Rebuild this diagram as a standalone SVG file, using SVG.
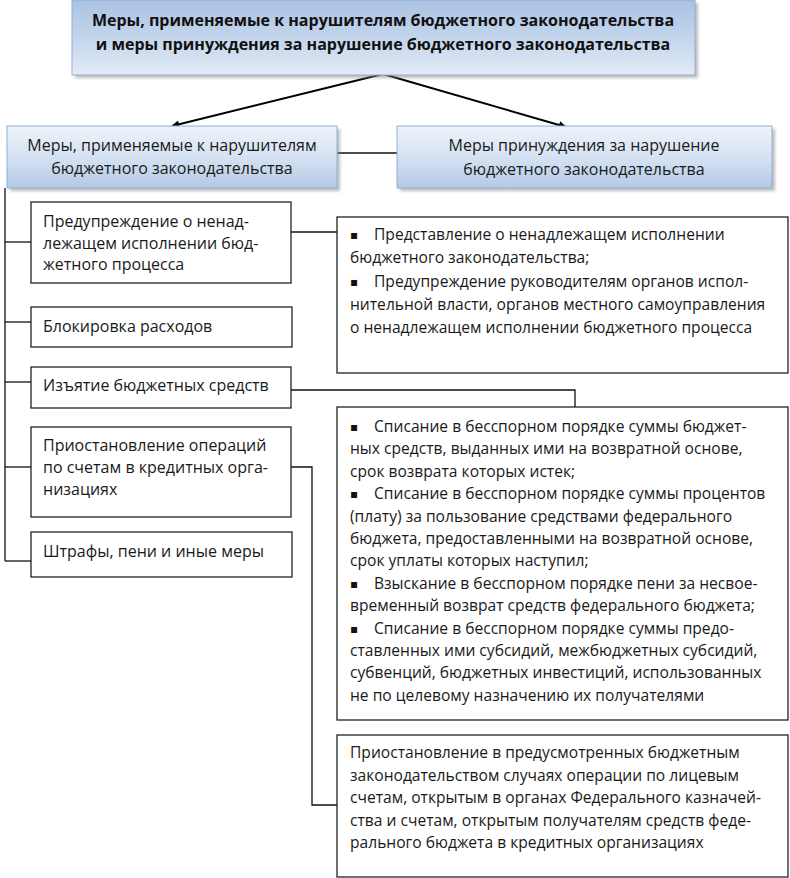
<svg xmlns="http://www.w3.org/2000/svg" width="790" height="878" viewBox="0 0 790 878">
<style>
.t{font-family:"Open Sans","Noto Sans","Liberation Sans",sans-serif;font-size:15.6px;fill:#1a1a1a}
.tl{font-family:"Open Sans","Noto Sans","Liberation Sans",sans-serif;font-size:16px;fill:#1a1a1a}
.tb{font-family:"Open Sans","Noto Sans","Liberation Sans",sans-serif;font-size:16px;font-weight:bold;fill:#111}
.bu{font-family:"DejaVu Sans",sans-serif;font-size:12px;fill:#111}
.box{fill:#fff;stroke:#222;stroke-width:1.3}
.blue{fill:url(#gb);stroke:#8fb0d8;stroke-width:1}
.sh{fill:#888;opacity:0.55;filter:url(#bl)}
.ln{fill:none;stroke:#111;stroke-width:1.3}
.ar{fill:none;stroke:#000;stroke-width:2}
.c{text-anchor:middle}
</style>
<defs>
<linearGradient id="gb" x1="0" y1="0" x2="0" y2="1">
<stop offset="0" stop-color="#eef3fa"/>
<stop offset="0.55" stop-color="#d3e0f1"/>
<stop offset="1" stop-color="#b3c9e5"/>
</linearGradient>
<linearGradient id="gt" x1="0" y1="0" x2="0" y2="1">
<stop offset="0" stop-color="#a9c2e2"/>
<stop offset="0.6" stop-color="#c9d9ee"/>
<stop offset="1" stop-color="#e3ebf6"/>
</linearGradient>
<filter id="bl" x="-5%" y="-20%" width="110%" height="140%"><feGaussianBlur stdDeviation="1.5"/></filter>
<marker id="ah" viewBox="0 0 10 10" refX="9" refY="5" markerWidth="9" markerHeight="8" orient="auto" markerUnits="userSpaceOnUse">
<path d="M0,0 L10,5 L0,10 z" fill="#000"/>
</marker>
</defs>

<g id="connectors">
<path class="ar" d="M383,74 L172,126" marker-end="url(#ah)"/>
<path class="ar" d="M383,74 L566,127" marker-end="url(#ah)"/>
<path class="ln" d="M337,153 H397"/>
<path class="ln" d="M5,188 V561"/>
<path class="ln" d="M5,242 H31"/>
<path class="ln" d="M5,322 H31"/>
<path class="ln" d="M5,382 H31"/>
<path class="ln" d="M5,467 H31"/>
<path class="ln" d="M5,561 H31"/>
<path class="ln" d="M291,232 H337"/>
<path class="ln" d="M291,390 H575 V407"/>
<path class="ln" d="M291,467 H312 V805 H337"/>
</g>

<g id="top">
<rect class="sh" x="75" y="3" width="623" height="75"/>
<rect x="72" y="0" width="623" height="75" fill="url(#gt)" stroke="#8fb0d8"/>
<text class="tb c" x="383" y="26">Меры, применяемые к нарушителям бюджетного законодательства</text>
<text class="tb c" x="383" y="50">и меры принуждения за нарушение бюджетного законодательства</text>
</g>

<g id="left-main">
<rect class="sh" x="10" y="129" width="330" height="62"/>
<rect class="blue" x="7" y="126" width="330" height="62"/>
<text class="tl c" x="172" y="151">Меры, применяемые к нарушителям</text>
<text class="tl c" x="172" y="174">бюджетного законодательства</text>
</g>

<g id="right-main">
<rect class="sh" x="400" y="129" width="375" height="62"/>
<rect class="blue" x="397" y="126" width="375" height="62"/>
<text class="tl c" x="584" y="151">Меры принуждения за нарушение</text>
<text class="tl c" x="584" y="175">бюджетного законодательства</text>
</g>

<g id="l1">
<rect class="box" x="31" y="202" width="260" height="81"/>
<text class="tl" x="43" y="227">Предупреждение о ненад-</text>
<text class="tl" x="43" y="249">лежащем исполнении бюд-</text>
<text class="tl" x="43" y="270">жетного процесса</text>
</g>

<g id="l2">
<rect class="box" x="31" y="307" width="261" height="40"/>
<text class="tl" x="43" y="332">Блокировка расходов</text>
</g>

<g id="l3">
<rect class="box" x="31" y="367" width="260" height="41"/>
<text class="tl" x="43" y="391">Изъятие бюджетных средств</text>
</g>

<g id="l4">
<rect class="box" x="31" y="427" width="260" height="90"/>
<text class="tl" x="43" y="451">Приостановление операций</text>
<text class="tl" x="43" y="473">по счетам в кредитных орга-</text>
<text class="tl" x="43" y="495">низациях</text>
</g>

<g id="l5">
<rect class="box" x="31" y="532" width="261" height="45"/>
<text class="tl" x="43" y="557">Штрафы, пени и иные меры</text>
</g>

<g id="r1">
<rect class="box" x="337" y="217" width="451" height="156"/>
<text class="bu" x="350" y="239">▪</text><text class="t" x="374" y="240">Представление о ненадлежащем исполнении</text>
<text class="t" x="350" y="263">бюджетного законодательства;</text>
<text class="bu" x="350" y="286">▪</text><text class="t" x="374" y="287">Предупреждение руководителям органов испол-</text>
<text class="t" x="350" y="310">нительной власти, органов местного самоуправления</text>
<text class="t" x="350" y="333">о ненадлежащем исполнении бюджетного процесса</text>
</g>

<g id="r2">
<rect class="box" x="337" y="407" width="451" height="313"/>
<text class="bu" x="350" y="431">▪</text><text class="t" x="374" y="432">Списание в бесспорном порядке суммы бюджет-</text>
<text class="t" x="350" y="454.4">ных средств, выданных ими на возвратной основе,</text>
<text class="t" x="350" y="476.8">срок возврата которых истек;</text>
<text class="bu" x="350" y="498.2">▪</text><text class="t" x="374" y="499.2">Списание в бесспорном порядке суммы процентов</text>
<text class="t" x="350" y="521.6">(плату) за пользование средствами федерального</text>
<text class="t" x="350" y="544">бюджета, предоставленными на возвратной основе,</text>
<text class="t" x="350" y="566.4">срок уплаты которых наступил;</text>
<text class="bu" x="350" y="587.8">▪</text><text class="t" x="374" y="588.8">Взыскание в бесспорном порядке пени за несвое-</text>
<text class="t" x="350" y="611.2">временный возврат средств федерального бюджета;</text>
<text class="bu" x="350" y="632.6">▪</text><text class="t" x="374" y="633.6">Списание в бесспорном порядке суммы предо-</text>
<text class="t" x="350" y="656">ставленных ими субсидий, межбюджетных субсидий,</text>
<text class="t" x="350" y="678.4">субвенций, бюджетных инвестиций, использованных</text>
<text class="t" x="350" y="700.8">не по целевому назначению их получателями</text>
</g>

<g id="r3">
<rect class="box" x="337" y="735" width="451" height="142"/>
<text class="t" x="350" y="758">Приостановление в предусмотренных бюджетным</text>
<text class="t" x="350" y="780.5">законодательством случаях операции по лицевым</text>
<text class="t" x="350" y="803">счетам, открытым в органах Федерального казначей-</text>
<text class="t" x="350" y="825.5">ства и счетам, открытым получателям средств феде-</text>
<text class="t" x="350" y="848">рального бюджета в кредитных организациях</text>
</g>
</svg>
